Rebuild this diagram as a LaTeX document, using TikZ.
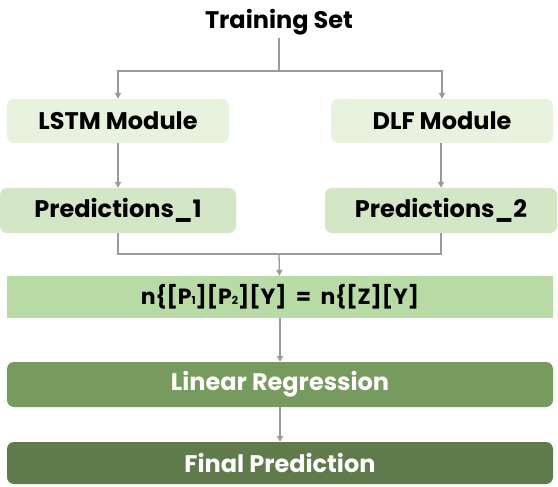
\documentclass[tikz,border=0pt]{standalone}
\usepackage{fontspec}
\setmainfont{Poppins}
\usetikzlibrary{arrows.meta}
\definecolor{modfill}{HTML}{E7F2DF}
\definecolor{predfill}{HTML}{D3E7C6}
\definecolor{eqfill}{HTML}{B8DBA5}
\definecolor{lrfill}{HTML}{779A5E}
\definecolor{finalfill}{HTML}{5F7B4C}
\definecolor{linkgray}{HTML}{9A9A9A}
\begin{document}
\begin{tikzpicture}[x=1pt,y=-1pt,
    every node/.style={font=\fontsize{24}{28}\selectfont\bfseries},
    box/.style={rounded corners=7pt, minimum height=44pt, inner sep=0pt},
    link/.style={draw=linkgray, line width=1.3pt},
    arr/.style={link, -{Triangle[length=6pt,width=6pt]}}]
    \useasboundingbox (0,0) rectangle (558,487);
    \node (train) at (279,22) {Training Set};
    \node [box, fill=modfill, minimum width=222pt] (lstm) at (118,121) {LSTM Module};
    \node [box, fill=modfill, minimum width=222pt] (dlf) at (442,121) {DLF Module};
    \node [box, fill=predfill, minimum width=236pt, minimum height=45pt] (pred1) at (118,210.5) {Predictions\_1};
    \node [box, fill=predfill, minimum width=232pt, minimum height=45pt] (pred2) at (441,210.5) {Predictions\_2};
    \node [fill=eqfill, minimum width=546pt, minimum height=42pt, inner sep=0pt,
        font=\fontsize{22}{26}\selectfont\bfseries] (eq) at (280,297)
        {n\{[P{\fontsize{11}{12}\selectfont 1}][P{\fontsize{11}{12}\selectfont 2}][Y]\ \ =\ \ n\{[Z][Y]};
    \node [box, fill=lrfill, text=white, minimum width=546pt, minimum height=45pt] (lr) at (280,384.5) {Linear Regression};
    \node [box, fill=finalfill, text=white, minimum width=546pt, minimum height=42pt] (final) at (280,463) {Final Prediction};
    \coordinate (split) at (279,71);
    \coordinate (merge) at (279,254);
    \draw [link] (train) -- (split);
    \draw [arr] (split) -| (lstm);
    \draw [arr] (split) -| (dlf);
    \draw [arr] (lstm) -- (pred1);
    \draw [arr] (dlf.south -| pred2) -- (pred2);
    \draw [link] (pred1) |- (merge);
    \draw [link] (pred2) |- (merge);
    \draw [arr] (merge) -- (eq);
    \draw [arr] (eq) -- (lr);
    \draw [arr] (lr) -- (final);
\end{tikzpicture}
\end{document}
